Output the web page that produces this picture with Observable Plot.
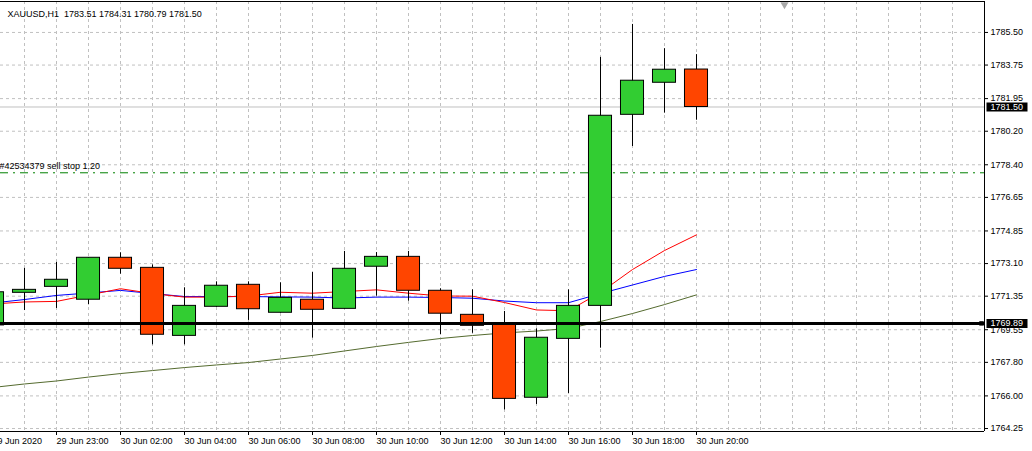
<!DOCTYPE html>
<html><head><meta charset="utf-8">
<script src="https://cdn.jsdelivr.net/npm/d3@7"></script>
<script src="https://cdn.jsdelivr.net/npm/@observablehq/plot@0.6"></script>
<style>html,body{margin:0;padding:0;background:#fff;overflow:hidden}</style>
</head><body><div id="chart"></div>
<script>
// ---- data ----
const times = ["29 Jun 21:00","29 Jun 22:00","29 Jun 23:00","30 Jun 01:00","30 Jun 02:00","30 Jun 03:00",
  "30 Jun 04:00","30 Jun 05:00","30 Jun 06:00","30 Jun 07:00","30 Jun 08:00","30 Jun 09:00","30 Jun 10:00",
  "30 Jun 11:00","30 Jun 12:00","30 Jun 13:00","30 Jun 14:00","30 Jun 15:00","30 Jun 16:00","30 Jun 17:00",
  "30 Jun 18:00","30 Jun 19:00","30 Jun 20:00"];
const open  = [1769.78,1771.53,1771.85,1771.16,1773.41,1772.87,1769.22,1770.78,1771.96,1770.46,1771.16,1770.67,1772.93,1773.46,1771.64,1770.35,1769.81,1765.90,1769.06,1770.83,1781.08,1782.80,1783.51];
const high  = [1771.85,1772.84,1773.16,1773.42,1773.68,1773.03,1771.80,1772.12,1772.12,1772.07,1772.62,1773.75,1773.69,1773.75,1771.75,1771.69,1770.53,1769.60,1771.69,1784.16,1785.93,1784.63,1784.31];
const low   = [1769.50,1770.58,1770.69,1770.89,1772.53,1768.74,1768.74,1770.75,1770.05,1770.44,1769.10,1770.65,1771.35,1771.08,1769.28,1769.36,1765.25,1765.54,1766.13,1768.56,1779.38,1781.17,1780.79];
const close = [1771.56,1771.69,1772.23,1773.41,1772.82,1769.28,1770.83,1771.91,1770.65,1771.26,1770.62,1772.82,1773.46,1771.64,1770.41,1769.76,1765.84,1769.12,1770.83,1781.03,1782.91,1783.50,1781.50];
const maFast = [1770.93,1771.04,1771.07,1771.41,1771.75,1771.49,1771.30,1771.30,1771.36,1771.56,1771.51,1771.60,1771.69,1771.51,1771.36,1771.35,1771.01,1770.61,1770.57,1771.55,1772.78,1773.80,1774.64];
const maMid  = [1770.98,1771.17,1771.39,1771.52,1771.66,1771.49,1771.33,1771.33,1771.33,1771.31,1771.30,1771.25,1771.30,1771.30,1771.28,1771.24,1771.09,1771.00,1771.00,1771.49,1771.95,1772.41,1772.78];
const maSlow = [1766.45,1766.64,1766.80,1767.01,1767.20,1767.36,1767.52,1767.66,1767.79,1767.98,1768.17,1768.41,1768.65,1768.87,1769.08,1769.24,1769.38,1769.48,1769.62,1769.99,1770.42,1770.90,1771.42];
const yTickLabels = ["1785.50","1783.75","1781.95","1780.20","1778.40","1776.65","1774.85","1773.10","1771.35","1769.55","1767.80","1766.00","1764.25"];
const firstDateLabel = "29 Jun 2020";
const titleText = "XAUUSD,H1  1783.51 1784.31 1780.79 1781.50";
const bidPrice = 1781.50;
const levelPrice = 1769.89;
const sellStopPrice = 1777.97;
const sellStopLabel = "#42534379 sell stop 1.20";
const visibleBars = [0.25, 31];      // bar-index window shown (incl. chart shift)
const chartShiftBar = 24.75;         // chart-shift marker position (bar index)
const priceWindow = [1764.09, 1787.16];

// ---- derived tables ----
const bars = times.map((t, i) => ({i, t, o: open[i], h: high[i], l: low[i], c: close[i]}));
const maTable = times.map((t, i) => ({i, fast: maFast[i], mid: maMid[i], slow: maSlow[i]}));
const yTicks = yTickLabels.map(Number);
const xTicks = times.map((t, i) => i).filter(i => i % 2 === 0);
const xGrid = d3.range(Math.ceil(visibleBars[0]), Math.floor(visibleBars[1]));
const halfBody = 0.36;
const boxSymbol = {draw(ctx) { ctx.rect(2, -4.5, 41, 9); }};

const font = "Liberation Sans, Arial, sans-serif";
const chart = Plot.plot({
  width: 1032, height: 451,
  marginLeft: 0, marginRight: 48, marginTop: 1, marginBottom: 20,
  style: {fontFamily: font, fontSize: "9px", color: "black", background: "white"},
  x: {type: "linear", domain: visibleBars, label: null},
  y: {type: "linear", domain: priceWindow, label: null},
  marks: [
    Plot.gridY(yTicks, {stroke: "#c0c0c0", strokeOpacity: 1, strokeDasharray: "3,3"}),
    Plot.gridX(xGrid, {stroke: "#c0c0c0", strokeOpacity: 1, strokeDasharray: "3,3"}),
    Plot.ruleY([bidPrice], {stroke: "#c0c0c0", strokeWidth: 1}),
    Plot.ruleY([sellStopPrice], {stroke: "#008000", strokeWidth: 1, strokeDasharray: "8,5,2,5"}),
    Plot.text([sellStopLabel], {y: () => sellStopPrice, frameAnchor: "left", textAnchor: "start", dx: -1, dy: -7, fill: "black", fontSize: 9}),
    Plot.line(maTable, {x: "i", y: "slow", stroke: "#556B2F", strokeWidth: 1, clip: true}),
    Plot.line(maTable, {x: "i", y: "mid", stroke: "#0000ff", strokeWidth: 1, clip: true}),
    Plot.line(maTable, {x: "i", y: "fast", stroke: "#ff0000", strokeWidth: 1, clip: true}),
    Plot.ruleX(bars, {x: "i", y1: "l", y2: "h", stroke: "black", strokeWidth: 1, clip: true}),
    Plot.rect(bars, {x1: d => d.i - halfBody, x2: d => d.i + halfBody, y1: "o", y2: "c",
      fill: d => d.c >= d.o ? "#32cd32" : "#ff4500", stroke: "black", strokeWidth: 1, clip: true}),
    Plot.ruleY([levelPrice], {stroke: "black", strokeWidth: 3}),
    Plot.text([titleText], {frameAnchor: "top-left", textAnchor: "start", dx: 7, dy: 9, fill: "black", fontSize: 9}),
    Plot.dot([chartShiftBar], {x: d => d, frameAnchor: "top", dy: 3, symbol: "triangle", rotate: 180, r: 3, fill: "#a8a8a8", stroke: "none"}),
    // frame: top, right, bottom
    Plot.ruleY([priceWindow[1]], {stroke: "black"}),
    Plot.ruleY([priceWindow[0]], {stroke: "black"}),
    Plot.ruleX([visibleBars[1]], {stroke: "black"}),
    Plot.axisY(yTicks, {anchor: "right", label: null, tickSize: 3, tickPadding: 3, tickFormat: d => d.toFixed(2), fontSize: 9}),
    Plot.axisX(xTicks, {anchor: "bottom", label: null, tickSize: 4, tickPadding: 2, textAnchor: "start", dx: 0,
      tickFormat: i => i === 0 ? firstDateLabel : times[i], fontSize: 9}),
    Plot.dot([bidPrice, levelPrice], {y: d => d, frameAnchor: "right", symbol: boxSymbol, fill: "black", stroke: "none"}),
    Plot.dot([levelPrice], {y: d => d, frameAnchor: "right", dx: -3, symbol: "square", r: 2.5, fill: "black"}),
    Plot.text([bidPrice, levelPrice], {y: d => d, text: d => d.toFixed(2), frameAnchor: "right", textAnchor: "start", dx: 6, fill: "white", fontSize: 9})
  ]
});
document.getElementById("chart").appendChild(chart);
</script></body></html>
